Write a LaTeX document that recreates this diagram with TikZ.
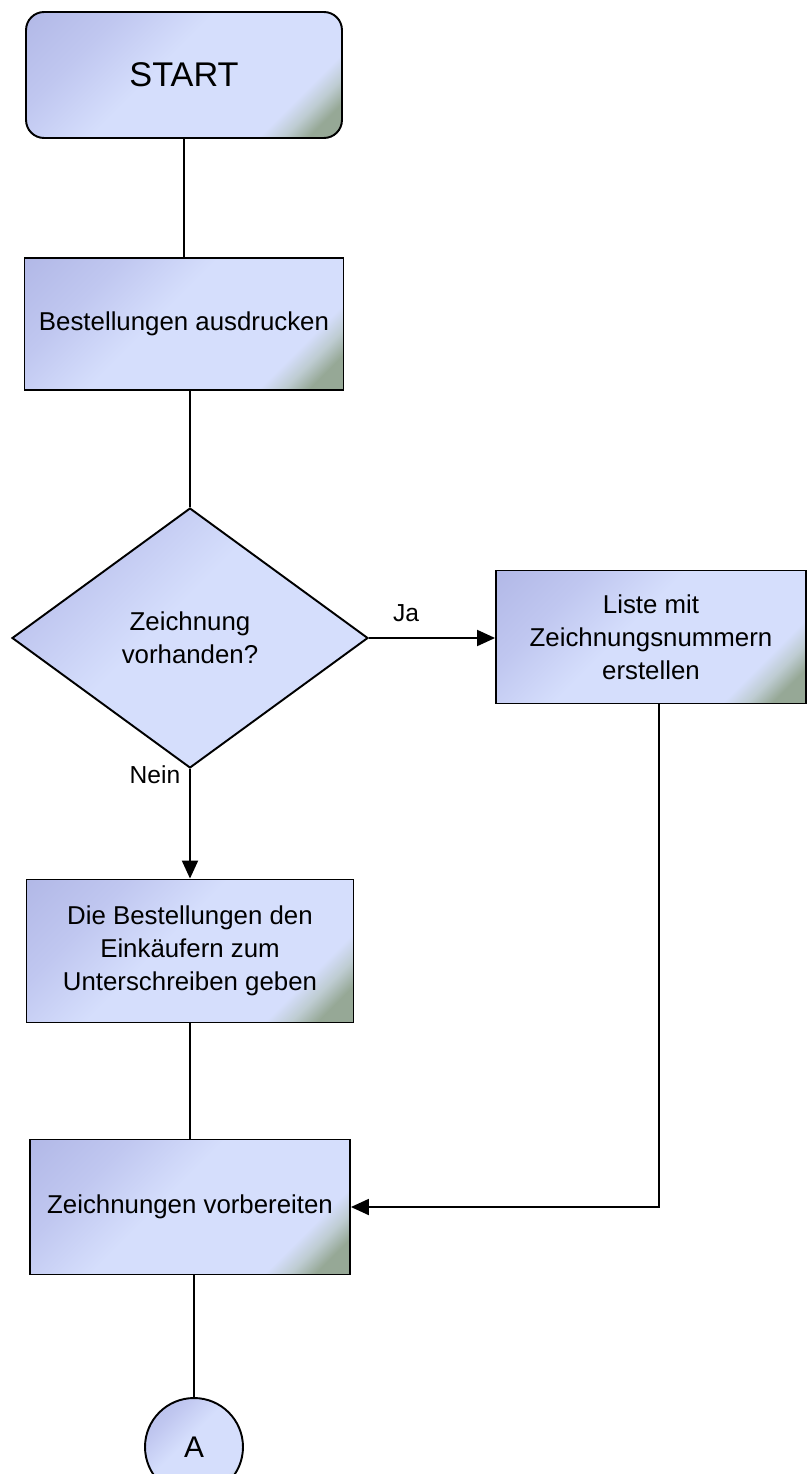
\documentclass[tikz,border=0pt]{standalone}
\usepackage{fontspec}
\setmainfont{Liberation Sans}
\usetikzlibrary{shapes.geometric,arrows.meta}
\definecolor{boxdark}{RGB}{164,170,222}
\definecolor{boxmid}{RGB}{192,199,240}
\definecolor{boxlight}{RGB}{213,222,252}
\definecolor{boxpale}{RGB}{190,204,210}
\definecolor{boxgreen}{RGB}{150,168,150}
\pgfdeclareverticalshading{boxshade}{100bp}{color(0bp)=(boxgreen); color(20bp)=(boxgreen); color(24bp)=(boxpale); color(28bp)=(boxlight); color(55bp)=(boxlight); color(70bp)=(boxmid); color(100bp)=(boxdark)}

\begin{document}
\begin{tikzpicture}[x=0.02cm,y=-0.02cm,
    stepbox/.style={draw,line width=1.1pt,shading=boxshade,shading angle=45,align=center,inner sep=0pt,font=\fontsize{14.7}{18.7}\selectfont},
    startbox/.style={stepbox,rounded corners=0.36cm,minimum width=6.32cm,minimum height=2.52cm,font=\fontsize{19.5}{22}\selectfont},
    askbox/.style={stepbox,diamond,minimum width=7.12cm,minimum height=5.2cm},
    connbox/.style={stepbox,circle,minimum size=1.96cm,font=\fontsize{17}{20}\selectfont},
    edgetext/.style={font=\fontsize{14}{17}\selectfont},
    link/.style={line width=1.1pt},
    arrowline/.style={line width=1.1pt,-{Triangle[length=0.36cm,width=0.32cm]}}]
    \useasboundingbox (0,0) rectangle (807,1474);
    \node[startbox] (start) at (184,75) {START};
    \node[stepbox,minimum width=6.38cm,minimum height=2.64cm] (print) at (184,324) {Bestellungen ausdrucken};
    \node[askbox] (check) at (190,638) {Zeichnung\\vorhanden?};
    \node[stepbox,minimum width=6.2cm,minimum height=2.66cm] (list) at (651,637) {Liste mit\\Zeichnungsnummern\\erstellen};
    \node[stepbox,minimum width=6.54cm,minimum height=2.86cm] (sign) at (190,951) {Die Bestellungen den\\Einkäufern zum\\Unterschreiben geben};
    \node[stepbox,minimum width=6.4cm,minimum height=2.7cm] (prep) at (190,1207) {Zeichnungen vorbereiten};
    \node[connbox] (conA) at (194,1447) {A};
    \node[edgetext] (ja) at (406,613) {Ja};
    \node[edgetext] (nein) at (155,775) {Nein};
    \draw[link] (start) -- (print);
    \draw[link] (check.north |- print.south) -- (check.north);
    \draw[arrowline] (check.east) -- (check.east -| list.west);
    \draw[arrowline] (check) -- (sign);
    \draw[link] (sign) -- (prep);
    \draw[arrowline] ([xshift=0.16cm]list.south) |- (prep.east);
    \draw[link] (prep.south -| conA.north) -- (conA.north);
\end{tikzpicture}
\end{document}
